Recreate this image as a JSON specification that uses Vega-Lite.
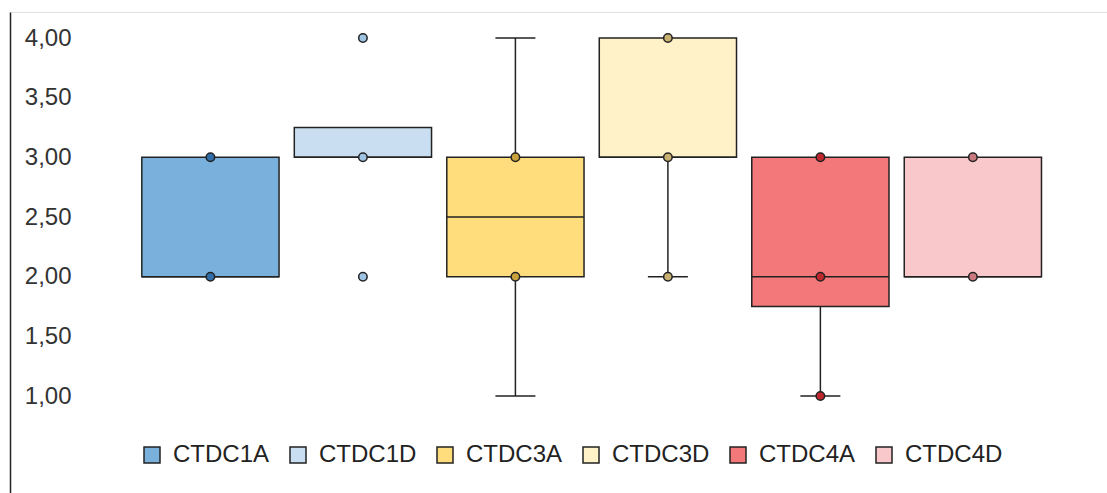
{
  "$schema": "https://vega.github.io/schema/vega-lite/v6.json",
  "autosize": "none",
  "width": 1097,
  "height": 481,
  "padding": {"left": 10, "top": 12, "right": 0, "bottom": 0},
  "background": "white",
  "config": {
    "view": {"stroke": null},
    "font": "Liberation Sans"
  },
  "datasets": {
    "boxes": [
      {"group": "CTDC1A", "lower": 2, "q1": 2, "median": 2, "q3": 3, "upper": 3},
      {"group": "CTDC1D", "lower": 3, "q1": 3, "median": 3, "q3": 3.25, "upper": 3.25},
      {"group": "CTDC3A", "lower": 1, "q1": 2, "median": 2.5, "q3": 3, "upper": 4},
      {"group": "CTDC3D", "lower": 2, "q1": 3, "median": 3, "q3": 4, "upper": 4},
      {"group": "CTDC4A", "lower": 1, "q1": 1.75, "median": 2, "q3": 3, "upper": 3},
      {"group": "CTDC4D", "lower": 2, "q1": 2, "median": 2, "q3": 3, "upper": 3}
    ],
    "caps": [
      {"group": "CTDC3A", "value": 1},
      {"group": "CTDC3A", "value": 4},
      {"group": "CTDC3D", "value": 2},
      {"group": "CTDC4A", "value": 1}
    ],
    "points": [
      {"group": "CTDC1A", "value": 3},
      {"group": "CTDC1A", "value": 2},
      {"group": "CTDC1D", "value": 4},
      {"group": "CTDC1D", "value": 3},
      {"group": "CTDC1D", "value": 2},
      {"group": "CTDC3A", "value": 3},
      {"group": "CTDC3A", "value": 2},
      {"group": "CTDC3D", "value": 4},
      {"group": "CTDC3D", "value": 3},
      {"group": "CTDC3D", "value": 2},
      {"group": "CTDC4A", "value": 3},
      {"group": "CTDC4A", "value": 2},
      {"group": "CTDC4A", "value": 1},
      {"group": "CTDC4D", "value": 3},
      {"group": "CTDC4D", "value": 2}
    ]
  },
  "encoding": {
    "x": {
      "field": "group",
      "type": "nominal",
      "sort": ["CTDC1A", "CTDC1D", "CTDC3A", "CTDC3D", "CTDC4A", "CTDC4D"],
      "scale": {"paddingInner": 0.1, "paddingOuter": 0.647, "align": 0.668},
      "axis": {
        "orient": "top",
        "title": null,
        "labels": false,
        "ticks": false,
        "domainColor": "#e0e0e0",
        "domainWidth": 1
      }
    }
  },
  "layer": [
    {
      "data": {"name": "boxes"},
      "mark": {"type": "rule", "color": "#222222", "strokeWidth": 1.5},
      "encoding": {
        "y": {
          "field": "lower",
          "type": "quantitative",
          "scale": {"domain": [0.1872, 4.2179], "zero": false, "nice": false},
          "axis": {
            "title": null,
            "values": [1, 1.5, 2, 2.5, 3, 3.5, 4],
            "labelExpr": "replace(format(datum.value, '.2f'), '.', ',')",
            "ticks": false,
            "grid": false,
            "domainColor": "#222222",
            "domainWidth": 1.5,
            "labelAlign": "right",
            "labelPadding": -61,
            "labelFontSize": 24,
            "labelColor": "#333333",
            "labelFont": "Liberation Sans"
          }
        },
        "y2": {"field": "upper"}
      }
    },
    {
      "data": {"name": "caps"},
      "mark": {"type": "tick", "color": "#222222", "size": 40, "thickness": 1.5, "opacity": 1},
      "encoding": {
        "y": {"field": "value", "type": "quantitative"}
      }
    },
    {
      "data": {"name": "boxes"},
      "mark": {"type": "bar", "stroke": "#222222", "strokeWidth": 1.5, "width": {"band": 1}, "opacity": 1},
      "encoding": {
        "y": {"field": "q1", "type": "quantitative"},
        "y2": {"field": "q3"},
        "fill": {
          "field": "group",
          "type": "nominal",
          "scale": {
            "domain": ["CTDC1A", "CTDC1D", "CTDC3A", "CTDC3D", "CTDC4A", "CTDC4D"],
            "range": ["#7ab1dc", "#c9dff1", "#ffdc7c", "#fff2c8", "#f27879", "#f9c8ca"]
          },
          "legend": {
            "title": null,
            "orient": "none",
            "legendX": 130,
            "legendY": 431,
            "direction": "horizontal",
            "padding": 0,
            "symbolType": "square",
            "symbolSize": 256,
            "symbolStrokeColor": "#222222",
            "symbolStrokeWidth": 1.5,
            "symbolOpacity": 1,
            "labelFontSize": 24,
            "labelFont": "Liberation Sans",
            "labelColor": "#222222",
            "labelOffset": 9,
            "columnPadding": 16
          }
        }
      }
    },
    {
      "data": {"name": "boxes"},
      "mark": {"type": "tick", "color": "#222222", "thickness": 1.5, "size": 137, "opacity": 1},
      "encoding": {
        "y": {"field": "median", "type": "quantitative"}
      }
    },
    {
      "data": {"name": "points"},
      "mark": {"type": "point", "shape": "circle", "filled": true, "size": 72, "stroke": "#222222", "strokeWidth": 1.5, "opacity": 1},
      "encoding": {
        "y": {"field": "value", "type": "quantitative"},
        "fill": {
          "field": "group",
          "type": "nominal",
          "scale": {
            "domain": ["CTDC1A", "CTDC1D", "CTDC3A", "CTDC3D", "CTDC4A", "CTDC4D"],
            "range": ["#2f6ea8", "#9fc3e3", "#c9a23c", "#c8b070", "#c0272d", "#c87a7f"]
          },
          "legend": null
        }
      }
    }
  ],
  "resolve": {"scale": {"fill": "independent"}}
}
